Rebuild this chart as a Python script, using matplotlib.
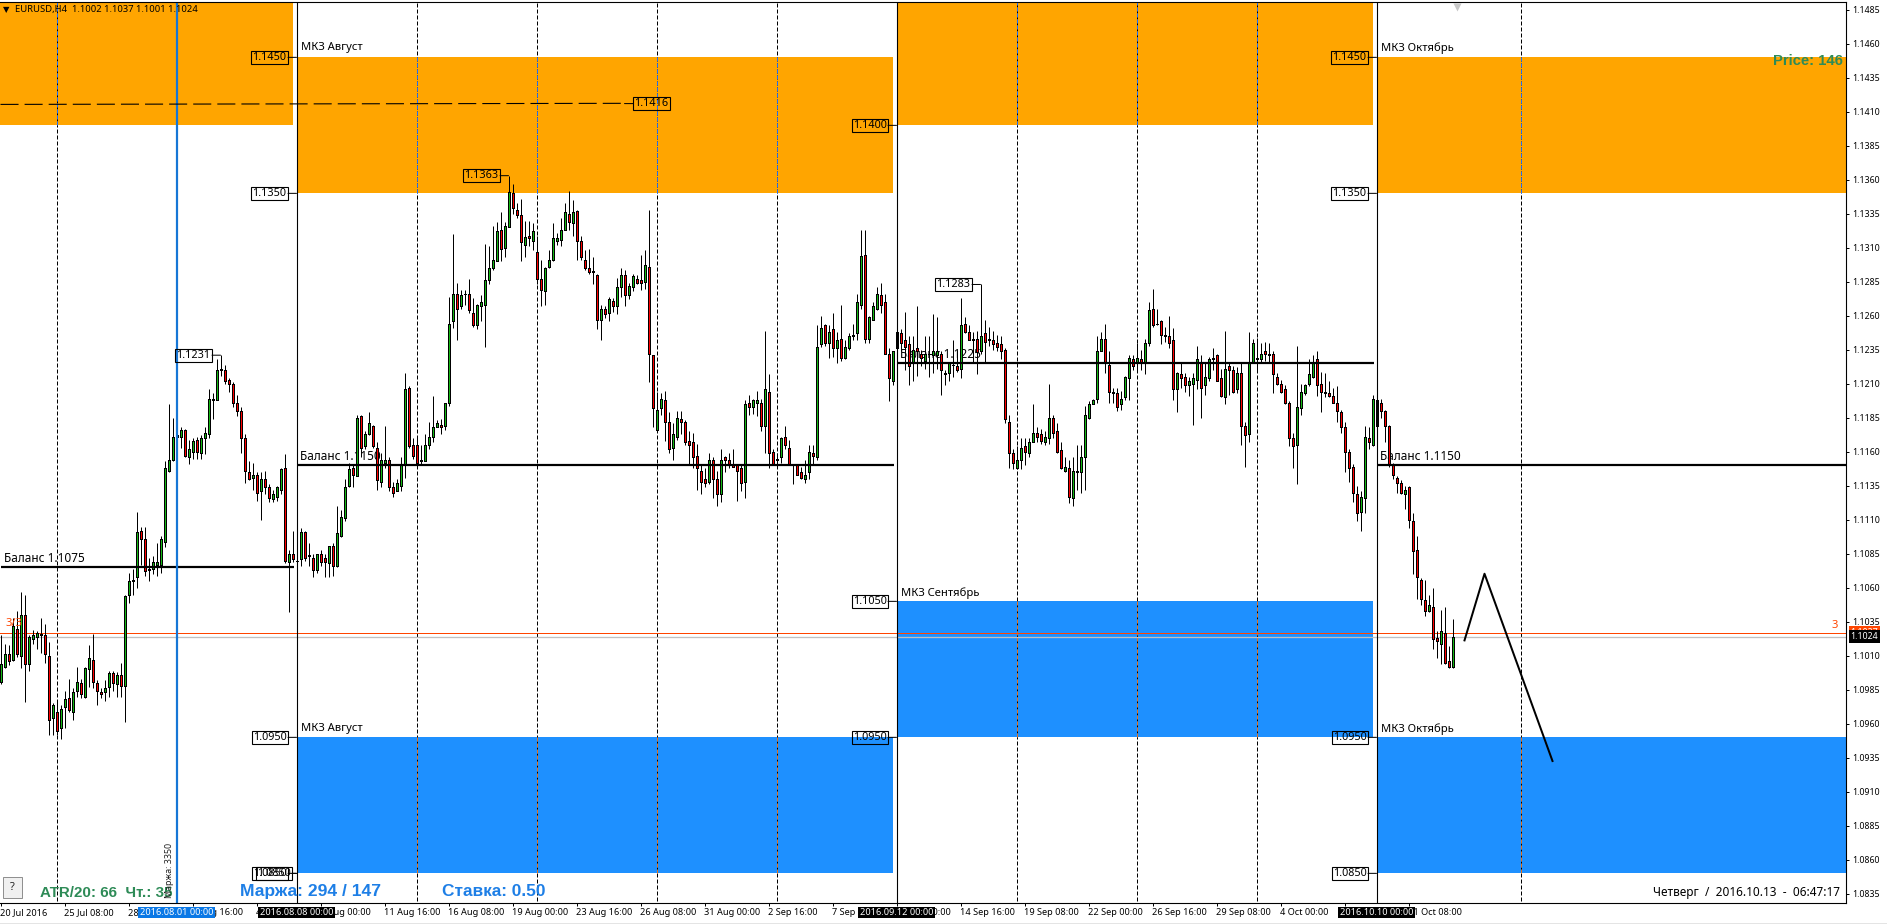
import numpy as np
import matplotlib
matplotlib.use('Agg')
import matplotlib.pyplot as plt
from matplotlib.patches import Rectangle

plt.rcParams['font.family'] = ['Noto Sans', 'DejaVu Sans']

# candles, pips above 1.0000
highs = [
    1025,1019,1018,1038,1043,1057,1055,1025,1029,1028,1038,1033,1020,975,977,974,984,993,986,1002,993,1002,1018,1026,992,
    986,992,999,999,998,1005,1055,1071,1074,1116,1105,1105,1082,1083,1093,1098,1153,1195,1185,1173,1178,1177,1169,1170,1171,
    1172,1178,1206,1203,1228,1231,1224,1214,1211,1202,1193,1173,1153,1152,1145,1145,1146,1136,1132,1135,1148,1158,1088,1102,1083,
    1104,1102,1093,1085,1085,1088,1085,1091,1093,1120,1117,1140,1152,1151,1187,1187,1175,1189,1180,1167,1159,1179,1156,1138,1140,
    1156,1218,1208,1170,1170,1165,1173,1182,1201,1183,1184,1196,1274,1320,1284,1279,1279,1287,1273,1269,1275,1313,1311,1326,1329,
    1336,1329,1363,1357,1343,1346,1330,1330,1328,1319,1301,1296,1308,1328,1321,1332,1343,1352,1345,1338,1319,1308,1309,1303,1291,
    1268,1267,1274,1273,1288,1295,1294,1284,1291,1290,1305,1308,1338,1231,1204,1203,1205,1189,1181,1190,1190,1183,1175,1174,1166,
    1150,1148,1159,1156,1146,1162,1157,1159,1162,1151,1151,1198,1202,1199,1205,1199,1249,1217,1162,1159,1171,1179,1169,1151,1151,
    1149,1154,1165,1165,1253,1260,1254,1253,1262,1248,1268,1242,1247,1254,1276,1323,1323,1260,1270,1281,1284,1276,1236,1234,1248,
    1250,1263,1245,1245,1267,1235,1245,1245,1261,1259,1234,1220,1225,1242,1235,1273,1259,1253,1248,1249,1283,1257,1252,1249,1246,
    1245,1236,1187,1162,1164,1170,1170,1170,1195,1178,1177,1175,1210,1187,1181,1167,1156,1154,1156,1165,1165,1194,1197,1199,1245,
    1248,1254,1234,1207,1207,1205,1216,1231,1231,1240,1235,1243,1270,1280,1265,1257,1252,1260,1251,1219,1225,1218,1215,1218,1238,
    1231,1225,1230,1236,1232,1221,1249,1225,1223,1222,1225,1182,1248,1243,1244,1240,1241,1240,1234,1218,1213,1209,1197,1174,1238,
    1210,1210,1228,1231,1234,1219,1218,1212,1207,1208,1191,1182,1162,1151,1135,1131,1179,1178,1202,1204,1199,1191,1180,1152,1142,
    1139,1135,1135,1115,1098,1067,1066,1055,1060,1028,1044,1046,1017,1037]
tops = [
    1004,1011,1011,1032,1030,1040,1040,1024,1025,1027,1026,1025,1010,974,969,971,978,979,983,991,990,1001,1008,1007,990,
    983,986,997,997,996,996,1054,1065,1066,1101,1102,1096,1074,1079,1079,1096,1148,1154,1171,1172,1176,1176,1162,1168,1169,
    1170,1174,1199,1199,1220,1221,1220,1213,1210,1196,1190,1170,1145,1143,1143,1140,1140,1134,1129,1134,1147,1148,1085,1085,1080,
    1101,1101,1084,1082,1085,1085,1082,1091,1091,1100,1112,1134,1147,1148,1185,1186,1173,1181,1179,1163,1154,1154,1154,1134,1137,
    1150,1206,1207,1165,1165,1154,1165,1171,1178,1181,1180,1196,1254,1276,1276,1275,1276,1276,1262,1268,1270,1286,1295,1301,1322,
    1323,1326,1351,1350,1338,1334,1318,1319,1322,1307,1287,1295,1301,1317,1317,1323,1336,1335,1336,1337,1315,1301,1295,1293,1290,
    1265,1265,1272,1271,1281,1290,1290,1282,1289,1287,1286,1297,1296,1231,1191,1199,1198,1182,1173,1185,1184,1182,1168,1167,1157,
    1146,1140,1154,1154,1140,1154,1156,1154,1151,1150,1148,1195,1196,1198,1198,1196,1206,1204,1160,1155,1170,1171,1163,1151,1150,
    1145,1143,1160,1159,1237,1251,1253,1248,1250,1242,1243,1237,1245,1246,1270,1304,1305,1259,1267,1276,1275,1270,1232,1234,1248,
    1247,1242,1239,1235,1236,1232,1232,1232,1234,1234,1232,1218,1225,1224,1223,1253,1254,1248,1243,1243,1245,1247,1243,1242,1240,
    1239,1235,1182,1159,1154,1163,1164,1167,1174,1174,1173,1171,1185,1185,1175,1161,1149,1148,1146,1146,1156,1187,1195,1198,1234,
    1243,1243,1224,1204,1203,1199,1215,1229,1228,1229,1228,1240,1264,1265,1254,1256,1246,1245,1242,1218,1217,1215,1212,1214,1228,
    1226,1215,1228,1229,1231,1214,1221,1223,1220,1218,1218,1179,1225,1240,1229,1232,1234,1232,1232,1215,1210,1206,1196,1170,1193,
    1204,1209,1217,1226,1228,1210,1204,1203,1201,1196,1189,1178,1160,1149,1129,1127,1171,1170,1199,1198,1196,1190,1179,1151,1141,
    1137,1132,1134,1109,1088,1066,1051,1047,1046,1023,1028,1027,1006,1024]
bottoms = [
    991,1002,1006,1007,1011,1010,1004,1004,1022,1024,1025,1011,963,964,955,957,972,970,969,984,982,980,1000,991,984,
    982,983,987,990,989,988,988,1055,1065,1068,1096,1072,1073,1074,1077,1077,1094,1146,1154,1171,1171,1157,1156,1160,1160,
    1159,1170,1173,1198,1198,1220,1212,1210,1196,1190,1170,1146,1140,1141,1130,1131,1134,1126,1125,1127,1132,1080,1079,1081,1080,
    1081,1082,1083,1073,1073,1079,1079,1078,1076,1076,1098,1111,1135,1143,1142,1163,1164,1173,1164,1139,1138,1152,1134,1130,1131,
    1135,1151,1164,1157,1152,1153,1153,1165,1171,1178,1178,1179,1196,1256,1265,1267,1276,1264,1253,1253,1267,1268,1286,1295,1300,
    1309,1310,1325,1339,1334,1314,1312,1317,1315,1287,1279,1278,1296,1301,1315,1316,1323,1329,1328,1315,1303,1295,1292,1292,1257,
    1257,1261,1262,1267,1267,1281,1275,1275,1281,1284,1284,1285,1232,1192,1176,1192,1182,1162,1163,1171,1182,1167,1165,1156,1148,
    1138,1137,1138,1140,1129,1129,1154,1150,1149,1146,1137,1138,1193,1193,1196,1179,1179,1159,1151,1154,1156,1165,1151,1150,1143,
    1141,1140,1145,1157,1156,1239,1240,1240,1236,1236,1229,1229,1236,1245,1247,1268,1243,1243,1257,1265,1268,1232,1214,1212,1236,
    1240,1237,1223,1226,1234,1229,1227,1232,1231,1231,1220,1217,1218,1224,1220,1221,1248,1242,1242,1233,1234,1241,1242,1239,1237,
    1234,1184,1159,1152,1148,1154,1160,1159,1167,1171,1168,1167,1170,1174,1160,1148,1146,1127,1126,1145,1145,1156,1185,1195,1199,
    1234,1225,1204,1203,1193,1195,1200,1214,1223,1226,1226,1226,1240,1253,1254,1246,1245,1240,1206,1206,1214,1209,1209,1210,1213,
    1207,1209,1214,1228,1212,1201,1200,1220,1204,1206,1179,1172,1173,1226,1228,1228,1232,1231,1217,1210,1204,1196,1170,1164,1165,
    1192,1203,1210,1215,1209,1204,1203,1201,1196,1190,1178,1160,1148,1130,1115,1116,1126,1167,1165,1179,1190,1179,1150,1143,1137,
    1130,1129,1110,1087,1068,1052,1043,1043,1022,1021,1019,1005,1002,1002]
lows = [
    989,1001,1003,1006,1009,1001,976,999,1019,1015,1012,1005,952,952,952,949,957,969,963,980,979,979,987,986,974,
    979,977,980,984,980,980,961,1049,1055,1060,1077,1069,1065,1070,1069,1071,1090,1145,1153,1164,1163,1156,1151,1155,1155,
    1155,1158,1170,1184,1198,1216,1210,1204,1193,1186,1159,1137,1139,1132,1124,1110,1129,1123,1123,1124,1129,1078,1042,1079,1079,
    1076,1080,1076,1068,1071,1076,1068,1068,1069,1075,1097,1109,1134,1134,1142,1156,1162,1172,1163,1132,1134,1148,1131,1127,1131,
    1131,1141,1163,1155,1150,1150,1153,1162,1167,1178,1173,1176,1194,1251,1242,1265,1268,1262,1252,1250,1256,1237,1283,1294,1300,
    1300,1303,1325,1335,1332,1300,1303,1311,1308,1283,1267,1268,1295,1300,1312,1311,1323,1323,1319,1301,1301,1294,1291,1283,1250,
    1242,1258,1256,1263,1261,1274,1267,1272,1278,1283,1279,1280,1211,1178,1175,1187,1168,1159,1154,1169,1173,1165,1151,1148,1132,
    1129,1134,1136,1126,1120,1123,1145,1148,1149,1124,1131,1126,1187,1188,1186,1175,1159,1148,1150,1149,1152,1162,1150,1136,1143,
    1140,1137,1140,1150,1154,1237,1238,1229,1230,1225,1227,1228,1235,1242,1242,1265,1240,1240,1257,1264,1262,1232,1197,1209,1225,
    1234,1220,1209,1212,1216,1223,1221,1215,1218,1221,1202,1209,1212,1215,1219,1214,1247,1242,1226,1217,1232,1225,1238,1235,1234,
    1228,1181,1148,1147,1147,1147,1150,1156,1167,1167,1166,1165,1166,1170,1159,1147,1145,1122,1120,1132,1130,1132,1184,1195,1196,
    1234,1218,1196,1196,1190,1191,1198,1198,1220,1220,1220,1217,1238,1252,1253,1239,1241,1236,1198,1189,1207,1204,1201,1180,1206,
    1185,1202,1212,1220,1212,1200,1195,1202,1203,1203,1165,1149,1167,1225,1220,1225,1227,1225,1203,1209,1203,1195,1164,1148,1136,
    1187,1202,1208,1214,1201,1189,1200,1200,1196,1182,1174,1145,1138,1123,1109,1102,1115,1162,1164,1178,1185,1167,1149,1140,1130,
    1129,1118,1104,1070,1052,1047,1039,1042,1015,1008,1004,1004,1001,1001]
direction = ('ggrgrgrggg' 'rrrgrggrgg' 'rggrr'
             'rggrgrgggg' 'rrrggggggg' 'grggr'
             'gggggrrrrr' 'rrrgrgrrgg' 'grgrr'
             'grgrgrrgrg' 'gggrgrggrr' 'ggrrg'
             'ggrrrrgggg' 'rgggrggrrg' 'ggggg'
             'rggrrrgrgr' 'rggggggrgr' 'rrrrr'
             'grgrggrggr' 'rgrrggrrgg' 'rrrrr'
             'rrgrrgrrrr' 'rgrggrgrrg' 'grrrr'
             'rggrggrgrg' 'rgggggrggg' 'rrrgr'
             'rrrgrrgggg' 'rrggrgrrrr' 'grrrr'
             'rrrrggrggr' 'rggrrrgrgg' 'ggggg'
             'grrrrgggrg' 'rggrrrgrrg' 'rrggg'
             'rgggrrgrrg' 'rrggggrrrr' 'rrrrg'
             'ggggrrrrrr' 'rrrrrggrgr' 'rrrrr'
             'rgrrrrrgrrgrrg')

# zones: first bar, last bar, upper and lower price
sell_zones = [(-1, 73, 1.1500, 1.1400), (74, 223, 1.1450, 1.1350),
              (224, 343, 1.1500, 1.1400), (344, 462, 1.1450, 1.1350)]
buy_zones = [(74, 223, 1.0950, 1.0850), (224, 343, 1.1050, 1.0950),
             (344, 462, 1.0950, 1.0850)]
balance_lines = [(0, 73, 1.1075), (74, 223, 1.1150), (224, 343, 1.1225), (344, 462, 1.1150)]
balance_text = [('Баланс 1.1075', 0.9, 1.10818), ('Баланс 1.1150', 75, 1.11568),
                ('Баланс 1.1225', 225, 1.12318), ('Баланс 1.1150', 345, 1.11568)]
zone_text = [('МКЗ Август', 75.1, 1.14571), ('МКЗ Август', 75.1, 1.09563),
             ('МКЗ Сентябрь', 225.1, 1.10563), ('МКЗ Октябрь', 345.1, 1.14571),
             ('МКЗ Октябрь', 345.1, 1.09563)]
level_labels = [(74, 1.1450), (74, 1.1350), (74, 1.0950), (74, 1.0850), (224, 1.1400),
                (224, 1.1050), (224, 1.0950), (344, 1.1450), (344, 1.1350),
                (344, 1.0950), (344, 1.0850), (55, 1.1231), (127, 1.1363), (245, 1.1283)]
separators = [74, 224, 344]
grid_bars = [14, 104, 134, 164, 194, 254, 284, 314, 380]
wave_bars = [366, 371, 388]
wave_prices = [1.10213, 1.10703, 1.09326]
dash_bars = [0, 156]
dash_prices = [1.14154, 1.14162]
time_ticks = list(range(0, 353, 16))
time_labels = ['20 Jul 2016', '25 Jul 08:00', '28 Jul 00:00', '1 Aug 16:00', '4 Aug 08:00',
               '9 Aug 00:00', '11 Aug 16:00', '16 Aug 08:00', '19 Aug 00:00', '23 Aug 16:00',
               '26 Aug 08:00', '31 Aug 00:00', '2 Sep 16:00', '7 Sep 08:00', '12 Sep 00:00',
               '14 Sep 16:00', '19 Sep 08:00', '22 Sep 00:00', '26 Sep 16:00', '29 Sep 08:00',
               '4 Oct 00:00', '6 Oct 16:00', '11 Oct 08:00']
marked_times = [(44, '2016.08.01 00:00', '#0a78e6'), (74, '2016.08.08 00:00', 'black'),
                (224, '2016.09.12 00:00', 'black'), (344, '2016.10.10 00:00', 'black')]
price_ticks = [1.0835 + 0.0025 * k for k in range(27)]

highs = 1 + np.array(highs) / 1e4
tops = 1 + np.array(tops) / 1e4
bottoms = 1 + np.array(bottoms) / 1e4
lows = 1 + np.array(lows) / 1e4
bars = np.arange(len(highs))
colors = ['#14b814' if d == 'g' else '#ff0000' for d in direction]

W, H = 1887, 924
fig = plt.figure(figsize=(W / 100, H / 100), dpi=100, facecolor='white')
ax = fig.add_axes([0, 1 - 903 / H, 1845.5 / W, 901 / H])
ax.set_xlim(-0.125, 461.25)
ax.set_ylim(1.08282, 1.14907)
PX = 0.72

for x0, x1, up, lo in sell_zones:
    ax.add_patch(Rectangle((x0, lo), x1 - x0, up - lo, fc='#ffa500', ec='none', zorder=1))
for x0, x1, up, lo in buy_zones:
    ax.add_patch(Rectangle((x0, lo), x1 - x0, up - lo, fc='#1e90ff', ec='none', zorder=1))

# dashed grid, changes colour where it crosses a zone
DASH = (0, (4, 2))
ax.vlines(grid_bars, 1.08, 1.15, color='black', lw=PX, linestyle=DASH, zorder=1.1)
for b in grid_bars:
    for x0, x1, up, lo in sell_zones:
        if x0 <= b <= x1:
            ax.plot([b, b], [lo, up], color='#1e6eff', lw=PX, linestyle=DASH, zorder=1.2)
    for x0, x1, up, lo in buy_zones:
        if x0 <= b <= x1:
            ax.plot([b, b], [lo, up], color='#e1701e', lw=PX, linestyle=DASH, zorder=1.2)

ax.axhline(1.10265, color='#ff4500', lw=PX, zorder=1.5)
ax.axhline(1.10235, color='#c0c0c0', lw=PX * 1.3, zorder=1.5)

for txt, x, y in balance_text:
    ax.text(x, y, txt, fontsize=8.5, va='center', ha='left', color='black', zorder=2)
for txt, x, y in zone_text:
    ax.text(x, y, txt, fontsize=8.1, va='center', ha='left', color='black', zorder=2)

ax.vlines(bars, lows, highs, color='black', lw=PX, zorder=3)
ax.bar(bars, tops - bottoms, bottom=bottoms, width=0.5, color=colors, edgecolor='black',
       linewidth=PX, zorder=3.1, antialiased=False)

for x0, x1, y in balance_lines:
    ax.plot([x0, x1 + 0.3], [y, y], color='black', lw=PX * 2.2, solid_capstyle='butt', zorder=4)
for s in separators:
    ax.axvline(s, color='black', lw=PX * 1.1, zorder=4)
ax.axvline(44, color='#1676d6', lw=PX * 2.2, zorder=4)

ax.plot(dash_bars, dash_prices, color='black', lw=PX * 1.1, linestyle=(0, (16.4, 5.5)), zorder=4)
ax.plot(wave_bars, wave_prices, color='black', lw=PX * 2, zorder=5)

def box_label(bar, price, txt, side=-1, shift=0):
    ax.annotate(txt, xy=(bar, price), xytext=(side * 10 * PX + shift * PX, 0),
                textcoords='offset points', ha='right' if side < 0 else 'left', va='center',
                fontsize=7.8, color='black', zorder=6,
                bbox=dict(boxstyle='square,pad=0.1', fc='none', ec='black', lw=PX * 1.1),
                arrowprops=dict(arrowstyle='-', color='black', lw=PX, shrinkA=0, shrinkB=0))

for bar, price in level_labels:
    box_label(bar, price, '%.4f' % price)
box_label(74, 1.0850, '1.0850', shift=4)
box_label(156, 1.1416, '1.1416', side=1)

ax.plot([364], [1.1487], marker='v', ms=6, color='#c8c8c8', mec='none', clip_on=True, zorder=2)

# axes
ax.spines['left'].set_visible(False)
for s in ['top', 'right', 'bottom']:
    ax.spines[s].set_linewidth(PX * 1.1)
    ax.spines[s].set_zorder(8)
ax.yaxis.tick_right()
ax.set_yticks(price_ticks)
ax.set_yticklabels(['%.4f' % p for p in price_ticks], fontsize=6.3, color='black')
ax.tick_params(axis='y', length=3 * PX, width=PX, pad=3)
ax.set_xticks(time_ticks)
ax.set_xticklabels(time_labels, fontsize=6.6, ha='left', color='black')
ax.tick_params(axis='x', length=3 * PX, width=PX, pad=1.2)

for bar, txt, col in marked_times:
    ax.annotate(txt, xy=(bar, 1.08282), xytext=(0, -9.6 * PX), textcoords='offset points',
                ha='center', va='center', fontsize=6.6, color='white', annotation_clip=False, zorder=10,
                bbox=dict(boxstyle='square,pad=0.15', fc=col, ec='none'))

# current price tags
for price, txt, col in [(1.1027, '1.1027', '#ff4500'), (1.1024, '1.1024', 'black')]:
    ax.annotate(txt, xy=(1, price), xycoords=('axes fraction', 'data'), xytext=(5 * PX, 0),
                textcoords='offset points', va='center', ha='left', fontsize=6.3, color='white',
                annotation_clip=False, zorder=10,
                bbox=dict(boxstyle='square,pad=0.2', fc=col, ec='none'))

def px_text(x, y, txt, **kw):
    fig.text(x / W, 1 - y / H, txt, va='center', **kw)

px_text(15, 9.7, 'EURUSD,H4  1.1002 1.1037 1.1001 1.1024', fontsize=6.8, color='black')
px_text(3, 9.7, '▼', fontsize=6, color='black', family='DejaVu Sans')
px_text(5, 624, '3/3', fontsize=8, color='#ff4500')
px_text(1832, 625, '3', fontsize=8, color='#ff4500')
px_text(40, 892.7, 'ATR/20: 66  Чт.: 35', fontsize=10.9, fontweight='bold', color='#2e8b57', family='Liberation Sans')
px_text(240.4, 891.7, 'Маржа: 294 / 147', fontsize=12.6, fontweight='bold', color='#1e7fe6', family='Liberation Sans')
px_text(441.7, 891.7, 'Ставка: 0.50', fontsize=12.4, fontweight='bold', color='#1e7fe6', family='Liberation Sans')
px_text(1843, 61, 'Price: 146', fontsize=10.7, fontweight='bold', color='#2e8b57', ha='right', family='Liberation Sans')
px_text(1840, 892.7, 'Четверг  /  2016.10.13  -  06:47:17', fontsize=8.5, color='black', ha='right')
px_text(170, 870, 'Маржа: 3350', fontsize=6.4, color='#202020', rotation=90, ha='center')

fig.add_artist(Rectangle((3 / W, 1 - 898 / H), 18.7 / W, 21 / H, fc='#f0f0f0', ec='#909090',
                         lw=PX, transform=fig.transFigure))
px_text(12.3, 887.5, '?', fontsize=8, color='#202020', ha='center')
fig.add_artist(Rectangle((0, 0), 1, 1.5 / H, fc='#e4e4e4', ec='none', transform=fig.transFigure))

fig.savefig('out.png', dpi=100, facecolor='white')
